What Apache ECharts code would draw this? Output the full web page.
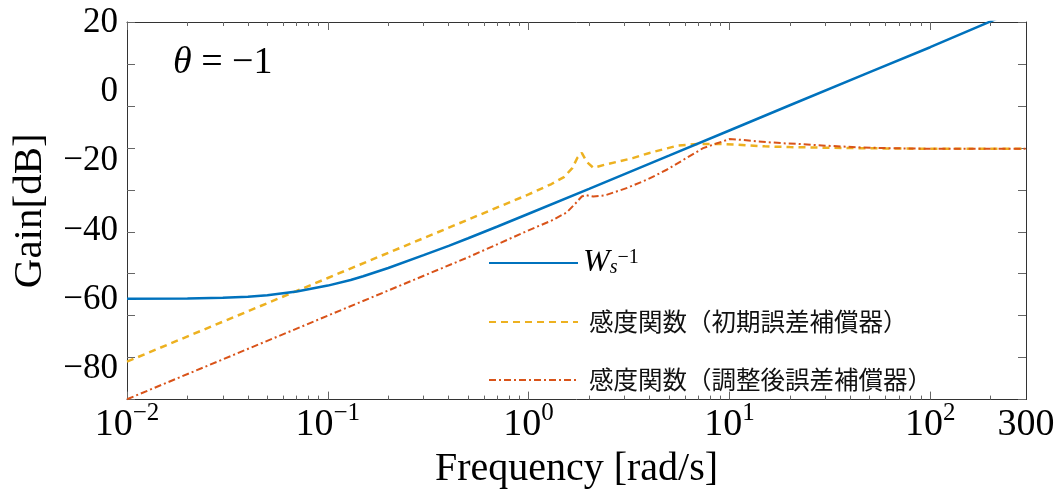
<!DOCTYPE html>
<html>
<head>
<meta charset="utf-8">
<script src="https://cdn.jsdelivr.net/npm/echarts@6/dist/echarts.min.js"></script>
<style>html,body{margin:0;padding:0;background:#fff}#c{width:1064px;height:494px}</style>
</head>
<body>
<div id="c"></div>
<script>
// ---- data (frequency in rad/s, gain in dB) ----
var seriesNames = ['Ws_inv', '感度関数（初期誤差補償器）', '感度関数（調整後誤差補償器）'];

var wsFreq = [0.01,0.02,0.03,0.04,0.05,0.07,0.1,0.13,0.15,0.2,0.3,0.4,0.5,0.7,1,2,5,10,20,50,100,200,300];
var wsGain = [-59.8,-59.7,-59.5,-59.2,-58.8,-57.7,-56.0,-54.4,-53.3,-50.9,-47.2,-44.5,-42.3,-38.9,-35.2,-28.0,-18.4,-11.1,-3.8,5.8,13.0,20.5,24.8];

var initFreq = [0.01,0.1,0.5,1,1.3,1.5,1.65,1.75,1.84,1.95,2.1,2.4,3.3,4,5.5,7,9,11,15,20,30,60,100,300];
var initGain = [-78.0,-53.8,-36.9,-29.6,-26.6,-24.6,-22.0,-19.0,-17.6,-20.2,-21.9,-21.0,-19.1,-17.6,-15.5,-15.0,-15.0,-15.2,-15.7,-15.9,-16.1,-16.3,-16.4,-16.4];

var adjFreq = [0.01,0.1,0.5,1,1.3,1.55,1.7,1.84,1.92,2.1,2.4,3.1,3.9,4.9,6.1,7.4,8.7,10,11.5,14,18.5,22,30,45,60,100,300];
var adjGain = [-88.9,-64.7,-47.8,-40.0,-37.2,-34.8,-32.4,-30.2,-29.8,-30.2,-29.9,-27.7,-25.3,-22.4,-19.1,-16.2,-14.8,-13.6,-13.8,-14.3,-14.8,-15.0,-15.5,-16.0,-16.2,-16.4,-16.4];

var yTickLabels = [20, 0, -20, -40, -60, -80];
var xDecades = [-2, -1, 0, 1, 2];      // 10^n labels
var xEndLabel = 300;

// ---- helpers ----
function zip(a, b) { return a.map(function (v, i) { return [v, b[i]]; }); }
var L300 = Math.log10(xEndLabel);
var minorTicks = [];
for (var d = -2; d <= 2; d++) {
  for (var m = 2; m <= 9; m++) {
    var v = Math.log10(m) + d;
    if (v < L300) minorTicks.push(v);
  }
}
var serif = '"Liberation Serif", "DejaVu Serif", serif';
var axisCol = '#333';
var tickCol = '#666';

function decoAxis(pos, ticks, len, withLine, withLabels) {
  var ax = {
    type: 'value', position: pos, min: -2, max: L300, gridIndex: 0,
    axisLine: { show: withLine, onZero: false, lineStyle: { color: axisCol, width: 1 } },
    axisTick: { show: true, inside: true, length: len, customValues: ticks, lineStyle: { color: tickCol, width: 1 } },
    splitLine: { show: false },
    axisLabel: { show: false }
  };
  if (withLabels) {
    ax.axisLabel = {
      show: true, margin: 1, customValues: xDecades.concat([L300]),
      fontFamily: serif, color: '#000',
      formatter: function (v) {
        if (Math.abs(v - L300) < 1e-6) return '{b|' + xEndLabel + '}';
        var n = Math.round(v);
        return '{b|10}{s|' + (n < 0 ? '\u2212' + (-n) : n) + '}';
      },
      rich: {
        b: { fontSize: 38, fontFamily: serif, lineHeight: 40, padding: [9, 0, 0, 0], color: '#000' },
        s: { fontSize: 25, fontFamily: serif, lineHeight: 26, verticalAlign: 'top', color: '#000' }
      }
    };
    ax.name = 'Frequency [rad/s]';
    ax.nameLocation = 'middle';
    ax.nameGap = 40;
    ax.nameTextStyle = { fontFamily: serif, fontSize: 40, color: '#000', verticalAlign: 'top' };
  }
  return ax;
}

function boxYAxis(pos) {
  return { type: 'value', min: 0, max: 9, interval: 1, position: pos,
    axisLine: { show: true, onZero: false, lineStyle: { color: axisCol } },
    axisTick: { show: true, inside: true, length: 8, lineStyle: { color: tickCol } },
    axisLabel: { show: false }, splitLine: { show: false } };
}

var chart = echarts.init(document.getElementById('c'), null, { renderer: 'canvas' });
chart.setOption({
  animation: false,
  backgroundColor: '#fff',
  grid: { left: 127, right: 38, top: 22, bottom: 91, containLabel: false },
  title: {
    text: '{i|\u03b8} = \u22121',
    left: 168, top: 39,
    textStyle: {
      fontFamily: serif, fontSize: 38, fontWeight: 'normal', color: '#000',
      rich: { i: { fontFamily: serif, fontSize: 38, fontStyle: 'italic', color: '#000' } }
    }
  },
  legend: {
    orient: 'vertical', left: 483, top: 242, itemGap: 28,
    itemWidth: 89, itemHeight: 14,
    data: seriesNames,
    itemStyle: { color: 'rgba(0,0,0,0)', borderWidth: 0, opacity: 0 },
    formatter: function (name) {
      if (name === 'Ws_inv') return '{w|W}{sub|s}{sup|\u22121}';
      return '{c|' + name + '}';
    },
    textStyle: {
      color: '#111', fontSize: 24, lineHeight: 30,
      rich: {
        w: { fontFamily: serif, fontStyle: 'italic', fontSize: 32, lineHeight: 30, color: '#000' },
        sub: { fontFamily: serif, fontStyle: 'italic', fontSize: 20, lineHeight: 30, verticalAlign: 'bottom', color: '#000' },
        sup: { fontFamily: serif, fontSize: 20, lineHeight: 20, verticalAlign: 'top', color: '#000' },
        c: { fontFamily: '"Noto Sans CJK JP", "Noto Sans", sans-serif', fontSize: 24.5, lineHeight: 30, padding: [0, 0, 0, 6], color: '#111' }
      }
    }
  },
  xAxis: [
    { type: 'log', logBase: 10, min: 0.01, max: 300, position: 'bottom',
      axisLine: { show: false }, axisTick: { show: false }, axisLabel: { show: false }, splitLine: { show: false } },
    decoAxis('bottom', xDecades, 8, true, true),
    decoAxis('bottom', minorTicks, 4, false, false),
    decoAxis('top', xDecades, 8, true, false),
    decoAxis('top', minorTicks, 4, false, false)
  ],
  yAxis: [
    { type: 'value', min: -89.0, max: 20.3, position: 'left',
      axisLine: { show: false }, axisTick: { show: false }, splitLine: { show: false },
      name: 'Gain[dB]', nameLocation: 'middle', nameGap: 76, nameRotate: 90,
      nameTextStyle: { fontFamily: serif, fontSize: 41, color: '#000' },
      axisLabel: {
        customValues: yTickLabels, margin: 9, fontFamily: serif, fontSize: 35, color: '#000',
        formatter: function (v) { return v < 0 ? '\u2212' + (-v) : String(v); }
      } },
    boxYAxis('left'),
    boxYAxis('right')
  ],
  series: [
    { name: seriesNames[0], type: 'line', xAxisIndex: 0, yAxisIndex: 0, showSymbol: false, symbol: 'none',
      data: zip(wsFreq, wsGain), lineStyle: { color: '#0072BD', width: 2.5 }, itemStyle: { color: '#0072BD' }, z: 3 },
    { name: seriesNames[1], type: 'line', xAxisIndex: 0, yAxisIndex: 0, showSymbol: false, symbol: 'none',
      data: zip(initFreq, initGain), lineStyle: { color: '#EDB120', width: 2.5, type: [7, 5] }, itemStyle: { color: '#EDB120' }, z: 2 },
    { name: seriesNames[2], type: 'line', xAxisIndex: 0, yAxisIndex: 0, showSymbol: false, symbol: 'none',
      data: zip(adjFreq, adjGain), lineStyle: { color: '#D95319', width: 2, type: [7, 3, 2, 3] }, itemStyle: { color: '#D95319' }, z: 4 }
  ]
});
</script>
</body>
</html>
